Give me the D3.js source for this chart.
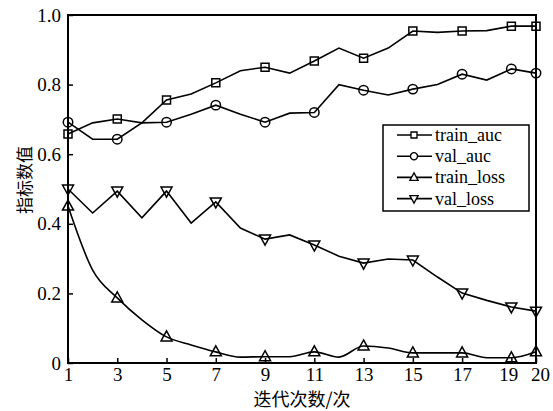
<!DOCTYPE html>
<html>
<head>
<meta charset="utf-8">
<script src="https://cdn.jsdelivr.net/npm/d3@7"></script>
<style>
  body { margin: 0; background: #fff; }
  svg { display: block; }
  .serif { font-family: 'Times New Roman', Times, 'Liberation Serif', 'DejaVu Serif', serif; }
  .cjk { font-family: 'Noto Sans CJK SC', sans-serif; }
</style>
</head>
<body>
<div id="chart"></div>
<script>
// data
const epochs = d3.range(1, 21);
const trainAuc = [0.658, 0.690, 0.701, 0.690, 0.756, 0.773, 0.805, 0.840, 0.850, 0.833,
  0.868, 0.905, 0.876, 0.905, 0.954, 0.950, 0.954, 0.955, 0.968, 0.968];
const valAuc = [0.692, 0.643, 0.643, 0.690, 0.692, 0.715, 0.741, 0.715, 0.692, 0.718,
  0.720, 0.800, 0.784, 0.770, 0.787, 0.800, 0.830, 0.813, 0.845, 0.833];
const trainLoss = [0.451, 0.267, 0.187, 0.124, 0.075, 0.052, 0.032, 0.017, 0.018, 0.018,
  0.032, 0.017, 0.049, 0.043, 0.029, 0.029, 0.029, 0.015, 0.015, 0.032];
const valLoss = [0.500, 0.431, 0.494, 0.417, 0.494, 0.402, 0.463, 0.388, 0.356, 0.368,
  0.339, 0.307, 0.287, 0.299, 0.296, 0.247, 0.201, 0.180, 0.161, 0.149];
const seriesNames = ['train_auc', 'val_auc', 'train_loss', 'val_loss'];
const markerTypes = ['square', 'circle', 'up', 'down'];
const xTicks = [1, 3, 5, 7, 9, 11, 13, 15, 17, 19, 20];
const yTicks = [0, 0.2, 0.4, 0.6, 0.8, 1.0];
const xTitle = '迭代次数/次';
const yTitle = '指标数值';

const width = 553;
const height = 411;
const margin = { left: 68, top: 15, right: 17, bottom: 48 };

const svg = d3.select('#chart').append('svg')
  .attr('width', width)
  .attr('height', height);

const x = d3.scaleLinear().domain([1, 20]).range([margin.left, width - margin.right]);
const y = d3.scaleLinear().domain([0, 1]).range([height - margin.bottom, margin.top]);

const series = [trainAuc, valAuc, trainLoss, valLoss].map((vals, i) => ({
  name: seriesNames[i],
  marker: markerTypes[i],
  // train_loss is drawn as a smooth curve in the original, the rest are straight
  curve: i === 2 ? d3.curveMonotoneX : d3.curveLinear,
  values: vals.map((v, j) => ({ e: epochs[j], v })),
}));

// markers drawn as paths centred on 0,0
function markerPath(type) {
  if (type === 'square') return 'M-4,-4H4V4H-4Z';
  if (type === 'circle') return d3.symbol(d3.symbolCircle, 70)();
  if (type === 'up') return 'M0,-6L5.5,4H-5.5Z';
  return 'M0,6L5.5,-4H-5.5Z';
}

const plots = svg.append('g').attr('class', 'plots');

series.forEach((s) => {
  const line = d3.line()
    .x((d) => x(d.e))
    .y((d) => y(d.v))
    .curve(s.curve);

  plots.append('path')
    .attr('d', line(s.values))
    .attr('fill', 'none')
    .attr('stroke', '#000')
    .attr('stroke-width', 1.6);

  plots.selectAll(null)
    .data(s.values.filter((d) => xTicks.includes(d.e)))
    .enter()
    .append('path')
    .attr('d', markerPath(s.marker))
    .attr('transform', (d) => `translate(${x(d.e)},${y(d.v)})`)
    .attr('fill', 'none')
    .attr('stroke', '#000')
    .attr('stroke-width', 1.5);
});

// frame
svg.append('rect')
  .attr('x', x(1))
  .attr('y', y(1))
  .attr('width', x(20) - x(1))
  .attr('height', y(0) - y(1))
  .attr('fill', 'none')
  .attr('stroke', '#000')
  .attr('stroke-width', 2);

// axes, ticks pointing inward
const xAxis = svg.append('g')
  .attr('transform', `translate(0,${y(0)})`)
  .call(d3.axisBottom(x).tickValues(xTicks).tickSizeInner(-5).tickSizeOuter(0).tickPadding(5));
xAxis.select('.domain').remove();
xAxis.selectAll('line').attr('stroke-width', 1.5);
xAxis.attr('font-family', null).attr('font-size', null);
xAxis.selectAll('text').attr('class', 'serif').style('font-size', '19px');
xAxis.selectAll('.tick').filter((d) => d === 19).select('text').attr('dx', -3);
xAxis.selectAll('.tick').filter((d) => d === 20).select('text').attr('dx', 4);

const yAxis = svg.append('g')
  .attr('transform', `translate(${x(1)},0)`)
  .call(d3.axisLeft(y).tickValues(yTicks).tickSizeInner(-5).tickSizeOuter(0).tickPadding(7)
    .tickFormat((d) => (d === 0 ? '0' : d3.format('.1f')(d))));
yAxis.select('.domain').remove();
yAxis.selectAll('line').attr('stroke-width', 1.5);
yAxis.attr('font-family', null).attr('font-size', null);
yAxis.selectAll('text').attr('class', 'serif').style('font-size', '19px');

// titles
svg.append('text')
  .attr('class', 'cjk')
  .attr('x', x(10.5))
  .attr('y', 406)
  .attr('text-anchor', 'middle')
  .style('font-size', '18px')
  .text(xTitle);

svg.append('text')
  .attr('class', 'cjk')
  .attr('transform', 'translate(31,180) rotate(-90)')
  .attr('text-anchor', 'middle')
  .style('font-size', '17px')
  .text(yTitle);

// legend
const legend = svg.append('g').attr('transform', 'translate(383,125)');
legend.append('rect')
  .attr('width', 146)
  .attr('height', 86)
  .attr('fill', '#fff')
  .attr('stroke', '#000')
  .attr('stroke-width', 1.5);

const rows = legend.selectAll('g.row')
  .data(series)
  .enter()
  .append('g')
  .attr('class', 'row')
  .attr('transform', (d, i) => `translate(0,${10 + i * 21.2})`);

rows.append('line')
  .attr('x1', 14).attr('x2', 49)
  .attr('stroke', '#000')
  .attr('stroke-width', 1.6);
rows.append('path')
  .attr('d', (d) => markerPath(d.marker))
  .attr('transform', 'translate(31,0) scale(0.75)')
  .attr('fill', '#fff')
  .attr('stroke', '#000')
  .attr('stroke-width', 1.8);
rows.append('text')
  .attr('class', 'serif')
  .attr('x', 52)
  .attr('dy', '0.33em')
  .style('font-size', '18px')
  .text((d) => d.name);
</script>
</body>
</html>
